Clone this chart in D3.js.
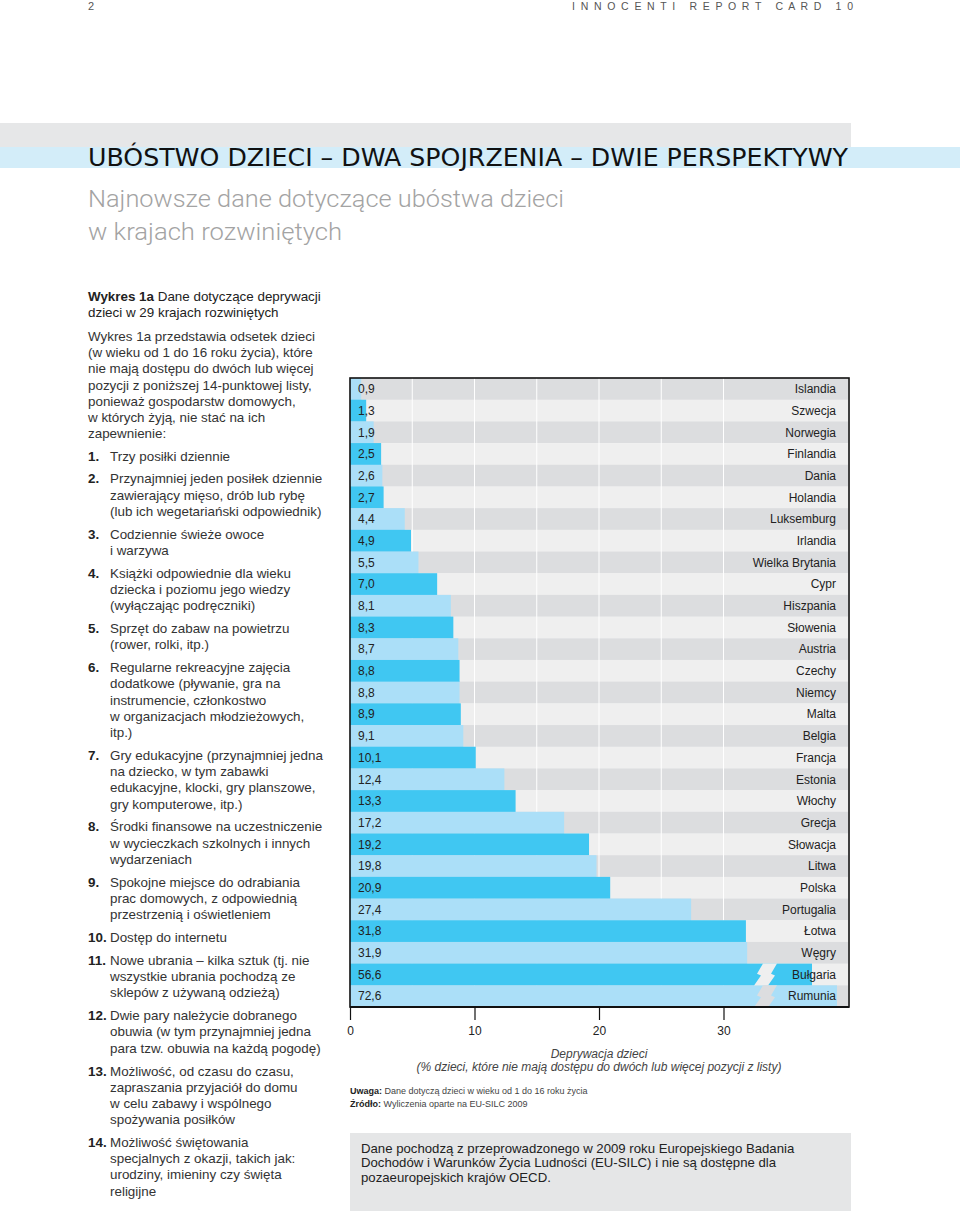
<!DOCTYPE html>
<html><head><meta charset="utf-8">
<script src="https://cdn.jsdelivr.net/npm/d3@7"></script>
<style>
html,body{margin:0;padding:0;background:#fff;}
svg{display:block;}
text{font-family:"Liberation Sans","Helvetica Neue",Arial,sans-serif;}
</style></head>
<body>
<svg id="c" width="960" height="1214"></svg>
<script>
const countries = ["Islandia","Szwecja","Norwegia","Finlandia","Dania","Holandia","Luksemburg","Irlandia","Wielka Brytania","Cypr","Hiszpania","Słowenia","Austria","Czechy","Niemcy","Malta","Belgia","Francja","Estonia","Włochy","Grecja","Słowacja","Litwa","Polska","Portugalia","Łotwa","Węgry","Bułgaria","Rumunia"];
const values = [0.9,1.3,1.9,2.5,2.6,2.7,4.4,4.9,5.5,7.0,8.1,8.3,8.7,8.8,8.8,8.9,9.1,10.1,12.4,13.3,17.2,19.2,19.8,20.9,27.4,31.8,31.9,56.6,72.6];
const tickValues = [0,10,20,30];
const gridValues = [5,10,15,20,25,30];

const listItems = [
  ["1.", ["Trzy posiłki dziennie"]],
  ["2.", ["Przynajmniej jeden posiłek dziennie","zawierający mięso, drób lub rybę","(lub ich wegetariański odpowiednik)"]],
  ["3.", ["Codziennie świeże owoce","i warzywa"]],
  ["4.", ["Książki odpowiednie dla wieku","dziecka i poziomu jego wiedzy","(wyłączając podręczniki)"]],
  ["5.", ["Sprzęt do zabaw na powietrzu","(rower, rolki, itp.)"]],
  ["6.", ["Regularne rekreacyjne zajęcia","dodatkowe (pływanie, gra na","instrumencie, członkostwo","w organizacjach młodzieżowych,","itp.)"]],
  ["7.", ["Gry edukacyjne (przynajmniej jedna","na dziecko, w tym zabawki","edukacyjne, klocki, gry planszowe,","gry komputerowe, itp.)"]],
  ["8.", ["Środki finansowe na uczestniczenie","w wycieczkach szkolnych i innych","wydarzeniach"]],
  ["9.", ["Spokojne miejsce do odrabiania","prac domowych, z odpowiednią","przestrzenią i oświetleniem"]],
  ["10.", ["Dostęp do internetu"]],
  ["11.", ["Nowe ubrania – kilka sztuk (tj. nie","wszystkie ubrania pochodzą ze","sklepów z używaną odzieżą)"]],
  ["12.", ["Dwie pary należycie dobranego","obuwia (w tym przynajmniej jedna","para tzw. obuwia na każdą pogodę)"]],
  ["13.", ["Możliwość, od czasu do czasu,","zapraszania przyjaciół do domu","w celu zabawy i wspólnego","spożywania posiłków"]],
  ["14.", ["Możliwość świętowania","specjalnych z okazji, takich jak:","urodziny, imieniny czy święta","religijne"]]
];
const introLines = ["Wykres 1a przedstawia odsetek dzieci","(w wieku od 1 do 16 roku życia), które","nie mają dostępu do dwóch lub więcej","pozycji z poniższej 14-punktowej listy,","ponieważ gospodarstw domowych,","w których żyją, nie stać na ich","zapewnienie:"];
const boxLines = ["Dane pochodzą z przeprowadzonego w 2009 roku Europejskiego Badania","Dochodów i Warunków Życia Ludności (EU-SILC) i nie są dostępne dla","pozaeuropejskich krajów OECD."];

(function(){
const svg = d3.select("#c");

// ---------- header ----------
svg.append("text").attr("x",88).attr("y",10).attr("font-size",11).attr("fill","#555").text("2");
svg.append("text").attr("x",572).attr("y",10).attr("font-size",10.5).attr("fill","#555")
  .style("white-space","pre").attr("xml:space","preserve")
  .attr("textLength",281).attr("lengthAdjust","spacing").text("I N N O C E N T I   R E P O R T   C A R D   1 0");

svg.append("rect").attr("x",0).attr("y",123).attr("width",851).attr("height",24).attr("fill","#e6e7e8");
svg.append("rect").attr("x",0).attr("y",147).attr("width",960).attr("height",21).attr("fill","#d3edf9");
svg.append("text").attr("x",88).attr("y",166).attr("font-size",25).attr("fill","#111")
  .style("font-family","'Liberation Sans Narrow','DejaVu Sans Condensed',Roboto,sans-serif")
  .attr("textLength",760).attr("lengthAdjust","spacingAndGlyphs")
  .text("UBÓSTWO DZIECI – DWA SPOJRZENIA – DWIE PERSPEKTYWY");
svg.append("text").attr("x",88).attr("y",207).attr("font-size",23).attr("fill","#a3a3a3")
  .attr("textLength",476).attr("lengthAdjust","spacingAndGlyphs")
  .style("font-family","Roboto,'Liberation Sans',sans-serif").style("font-weight",300)
  .text("Najnowsze dane dotyczące ubóstwa dzieci");
svg.append("text").attr("x",88).attr("y",240).attr("font-size",23).attr("fill","#a3a3a3")
  .attr("textLength",254).attr("lengthAdjust","spacingAndGlyphs")
  .style("font-family","Roboto,'Liberation Sans',sans-serif").style("font-weight",300)
  .text("w krajach rozwiniętych");

// ---------- left text ----------
const L = svg.append("g").attr("font-size",13.4).attr("fill","#333");
const t1 = L.append("text").attr("x",88).attr("y",301).attr("fill","#222");
t1.append("tspan").attr("font-weight","bold").text("Wykres 1a");
t1.append("tspan").text(" Dane dotyczące deprywacji");
L.append("text").attr("x",88).attr("y",317).attr("fill","#222").text("dzieci w 29 krajach rozwiniętych");
introLines.forEach((s,i)=>L.append("text").attr("x",88).attr("y",341+i*16.2).text(s));
let yy = 460.5;
listItems.forEach(([n,lines])=>{
  L.append("text").attr("x",88).attr("y",yy).attr("font-weight","bold").attr("fill","#222").text(n);
  lines.forEach((s,i)=>L.append("text").attr("x",110).attr("y",yy+i*16.2).text(s));
  yy += lines.length*16.2 + 6.7;
});

// ---------- chart ----------
const cL = 350, cR = 848, cT = 378, cB = 1007;
const x = d3.scaleLinear().domain([0,33,56.6,72.6]).range([cL, cL+33*12.45, 812, 837]);
const xAxisScale = d3.scaleLinear().domain([0,40]).range([cL,cR]);
const y = d3.scaleBand().domain(countries).range([cT,cB]).padding(0);
const rows = countries.map((c,i)=>({c, v:values[i], i}));
const bgCol = i => i%2===0 ? "#dcdddf" : "#efefef";
const barCol = i => i%2===0 ? "#abdff8" : "#40c7f2";

const g = svg.append("g");
g.selectAll("rect.bg").data(rows).join("rect")
  .attr("x",cL).attr("y",d=>y(d.c)).attr("width",cR-cL).attr("height",y.bandwidth()+0.3)
  .attr("fill",d=>bgCol(d.i));
g.selectAll("line.grid").data(gridValues).join("line")
  .attr("x1",d=>xAxisScale(d)).attr("x2",d=>xAxisScale(d)).attr("y1",cT).attr("y2",cB)
  .attr("stroke","#fff").attr("stroke-width",1);
g.selectAll("rect.bar").data(rows).join("rect")
  .attr("x",cL).attr("y",d=>y(d.c)).attr("width",d=>x(d.v)-cL).attr("height",y.bandwidth()+0.3)
  .attr("fill",d=>barCol(d.i));
// break symbols
const h = y.bandwidth();
g.selectAll("path.brk").data(rows.filter(d=>d.v>33)).join("path")
  .attr("d",d=>{
    const t = y(d.c), b = t+h+0.3;
    const pts = [[763,t],[757,t+0.47*h],[761,t+0.55*h],[754,b],[768,b],[775,t+0.55*h],[771,t+0.47*h],[777,t]];
    return d3.line()(pts)+"Z";
  })
  .attr("fill",d=>bgCol(d.i));

g.selectAll("text.val").data(rows).join("text")
  .attr("x",358).attr("y",d=>y(d.c)+h/2+4.3).attr("font-size",12).attr("fill","#222")
  .text(d=>d.v.toFixed(1).replace(".",","));
g.selectAll("text.cn").data(rows).join("text")
  .attr("x",836).attr("y",d=>y(d.c)+h/2+4.3).attr("font-size",12).attr("fill","#222")
  .attr("text-anchor","end").text(d=>d.c);

// frame
g.append("rect").attr("x",cL).attr("y",cT).attr("width",cR-cL+1).attr("height",cB-cT)
  .attr("fill","none").attr("stroke","#111").attr("stroke-width",1.6);
g.append("line").attr("x1",cL).attr("x2",cR+1).attr("y1",cB).attr("y2",cB).attr("stroke","#111").attr("stroke-width",2.2);

// axis
const ax = svg.append("g").attr("transform",`translate(0,${cB})`)
  .call(d3.axisBottom(xAxisScale).tickValues(tickValues).tickSize(13).tickPadding(6).tickFormat(d3.format("d")));
ax.select(".domain").remove();
ax.selectAll(".tick line").attr("stroke","#111").attr("stroke-width",1.2);
ax.selectAll(".tick text").attr("font-size",12).attr("fill","#222").style("font-family","'Liberation Sans',Arial,sans-serif");

svg.append("text").attr("x",599).attr("y",1058).attr("text-anchor","middle").attr("font-size",12)
  .attr("font-style","italic").attr("fill","#444").text("Deprywacja dzieci");
svg.append("text").attr("x",599).attr("y",1071).attr("text-anchor","middle").attr("font-size",12)
  .attr("font-style","italic").attr("fill","#444").text("(% dzieci, które nie mają dostępu do dwóch lub więcej pozycji z listy)");

const n1 = svg.append("text").attr("x",350).attr("y",1094).attr("font-size",9).attr("fill","#444");
n1.append("tspan").attr("font-weight","bold").attr("fill","#222").text("Uwaga:");
n1.append("tspan").text(" Dane dotyczą dzieci w wieku od 1 do 16 roku życia");
const n2 = svg.append("text").attr("x",350).attr("y",1107).attr("font-size",9).attr("fill","#444");
n2.append("tspan").attr("font-weight","bold").attr("fill","#222").text("Źródło:");
n2.append("tspan").text(" Wyliczenia oparte na EU-SILC 2009");

// bottom box
svg.append("rect").attr("x",350).attr("y",1133).attr("width",501).attr("height",78).attr("fill","#e5e6e7");
boxLines.forEach((s,i)=>svg.append("text").attr("x",361).attr("y",1152.5+i*14.6).attr("font-size",13.2).attr("fill","#222").text(s));
})();
</script>
</body></html>
